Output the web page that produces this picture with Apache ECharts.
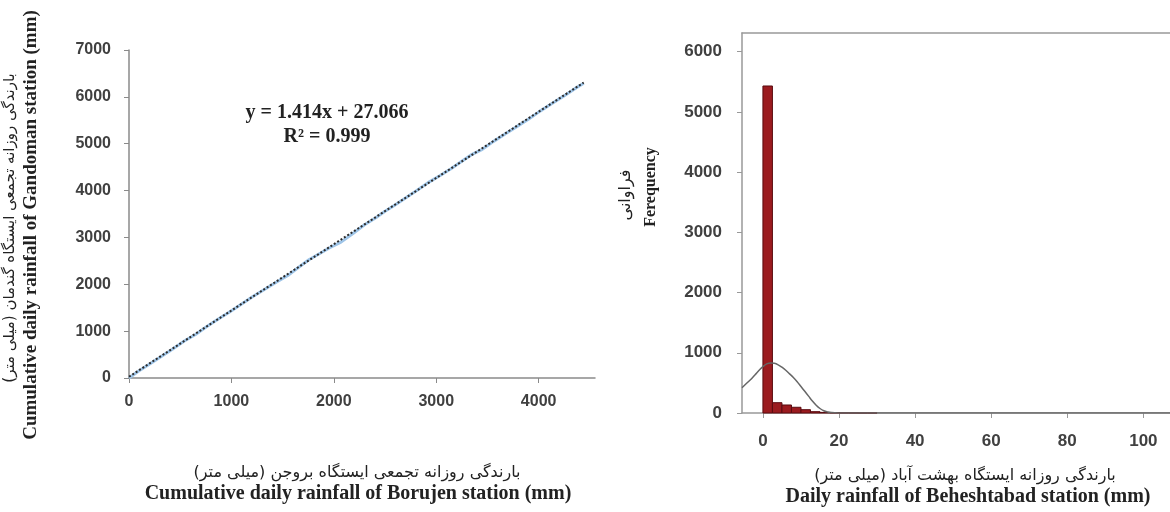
<!DOCTYPE html>
<html>
<head>
<meta charset="utf-8">
<script src="https://cdn.jsdelivr.net/npm/echarts@6.0.0/dist/echarts.min.js"></script>
<style>
  html, body { margin: 0; padding: 0; background: #fff; }
  #chart { width: 1170px; height: 512px; }
</style>
</head>
<body>
<div id="chart"></div>
<script>
// ---- left panel: double-mass curve, Borujen vs Gandoman ----
const borujenCum = [0, 95, 210, 330, 420, 540, 650, 760, 880, 990, 1100, 1210, 1330, 1450, 1560,
    1680, 1760, 1850, 1960, 2070, 2190, 2300, 2410, 2500, 2590, 2700, 2810, 2920, 3030, 3140,
    3260, 3340, 3450, 3560, 3680, 3790, 3900, 4010, 4130, 4240, 4350, 4440];
const gandomanCum = [0, 150, 310, 480, 610, 790, 930, 1100, 1270, 1420, 1580, 1740, 1900, 2060, 2200,
    2400, 2530, 2640, 2780, 2900, 3090, 3270, 3420, 3560, 3680, 3840, 4000, 4170, 4310, 4460,
    4640, 4760, 4880, 5050, 5220, 5370, 5520, 5690, 5860, 6010, 6170, 6290];
const trendX = [0, 4440];
const trendY = [27.066, 6305];
const leftXTicks = [0, 1000, 2000, 3000, 4000];

// ---- right panel: histogram of Beheshtabad daily rainfall ----
const binStart = [0, 2.5, 5, 7.5, 10, 12.5, 15, 17.5, 20, 22.5, 25, 27.5];
const binEnd = [2.5, 5, 7.5, 10, 12.5, 15, 17.5, 20, 22.5, 25, 27.5, 30];
const binCount = [5430, 171, 133, 95, 55, 22, 10, 5, 3, 2, 1, 1];
const curveX = [-5.5, -4, -3, -2, -1, 0, 1, 2, 3, 4, 5, 6, 7, 8, 9, 10, 11, 12, 13, 14, 15, 16, 17, 18, 20, 22, 25, 107];
const curveY = [420, 510, 570, 640, 710, 770, 815, 832, 825, 800, 760, 710, 650, 590, 520, 440, 360, 280, 200, 130, 75, 38, 18, 8, 2, 1, 0, 0];
const rightXTicks = [0, 20, 40, 60, 80, 100];
const rightYTicks = [0, 1000, 2000, 3000, 4000, 5000, 6000];

const chart = echarts.init(document.getElementById("chart"));

const tickFont = { fontFamily: "Liberation Sans", fontWeight: "bold", fontSize: 16, color: "#404040", formatter: v => String(v) };
const tickFontR = { ...tickFont, fontSize: 17 };
const persian = "16px 'DejaVu Sans'";
const RLM = "\u200F";

function vText(x, y, text, font) {
    return {
        type: "text", x, y, rotation: Math.PI / 2,
        style: { text, font, fill: "#222", textAlign: "center", textVerticalAlign: "middle" }
    };
}
function hText(x, y, text, font) {
    return {
        type: "text", x, y,
        style: { text, font, fill: "#222", textAlign: "center", textVerticalAlign: "middle" }
    };
}

chart.setOption({
    backgroundColor: "#fff",
    animation: false,
    grid: [
        { left: 129, top: 50, width: 466, height: 328 },
        { left: 742, top: 33, width: 440, height: 380 }
    ],
    xAxis: [
        {
            gridIndex: 0, type: "value", min: 0, max: 4550,
            axisLine: { lineStyle: { color: "#8a8a8a", width: 1.5 } },
            axisTick: { length: 5, customValues: leftXTicks, lineStyle: { color: "#8a8a8a" } },
            axisLabel: { ...tickFont, margin: 16, customValues: leftXTicks },
            splitLine: { show: false }
        },
        {
            gridIndex: 1, type: "value", min: -5.5, max: 107,
            axisLine: { onZero: false, lineStyle: { color: "#999", width: 1.5 } },
            axisTick: { length: 5, customValues: rightXTicks, lineStyle: { color: "#999" } },
            axisLabel: { ...tickFontR, margin: 20, customValues: rightXTicks },
            splitLine: { show: false }
        },
        {
            gridIndex: 1, type: "value", position: "top", min: -5.5, max: 107,
            axisLine: { onZero: false, lineStyle: { color: "#999", width: 1.5 } },
            axisTick: { show: false }, axisLabel: { show: false }, splitLine: { show: false }
        }
    ],
    yAxis: [
        {
            gridIndex: 0, type: "value", min: 0, max: 7000, interval: 1000,
            axisLine: { show: true, lineStyle: { color: "#8a8a8a", width: 1.5 } },
            axisTick: { show: true, length: 5, lineStyle: { color: "#8a8a8a" } },
            axisLabel: { ...tickFont, margin: 18 },
            splitLine: { show: false }
        },
        {
            gridIndex: 1, type: "value", min: 0, max: 6310,
            axisLine: { show: true, onZero: false, lineStyle: { color: "#999", width: 1.5 } },
            axisTick: { show: true, length: 5, customValues: rightYTicks, lineStyle: { color: "#999" } },
            axisLabel: { ...tickFontR, margin: 20, customValues: rightYTicks },
            splitLine: { show: false }
        }
    ],
    series: [
        {
            type: "line", xAxisIndex: 0, yAxisIndex: 0,
            data: borujenCum.map((x, i) => [x, gandomanCum[i]]),
            showSymbol: false,
            lineStyle: { color: "#9fc5e8", width: 3 }
        },
        {
            type: "line", xAxisIndex: 0, yAxisIndex: 0,
            data: trendX.map((x, i) => [x, trendY[i]]),
            showSymbol: false,
            lineStyle: { color: "#2b2b2b", width: 2, type: [2, 2] }
        },
        {
            type: "custom", xAxisIndex: 1, yAxisIndex: 1,
            data: binStart.map((s, i) => [s, binEnd[i], binCount[i]]),
            encode: { x: [0, 1], y: 2 },
            renderItem: (params, api) => {
                const p0 = api.coord([api.value(0), api.value(2)]);
                const p1 = api.coord([api.value(1), 0]);
                return {
                    type: "rect",
                    shape: { x: p0[0], y: p0[1], width: p1[0] - p0[0], height: p1[1] - p0[1] },
                    style: { fill: "#9b1b1f", stroke: "#5a0c10", lineWidth: 1 }
                };
            }
        },
        {
            type: "line", xAxisIndex: 1, yAxisIndex: 1,
            data: curveX.map((x, i) => [x, curveY[i]]),
            smooth: 0.4, showSymbol: false,
            lineStyle: { color: "#666", width: 1.5 }
        }
    ],
    graphic: [
        hText(327, 113, "y = 1.414x + 27.066", "bold 20px 'Liberation Serif'"),
        hText(327, 137, "R² = 0.999", "bold 20px 'Liberation Serif'"),
        vText(10, 228, "بارندگی روزانه تجمعی ایستگاه گندمان (میلی متر)" + RLM, "15px 'DejaVu Sans'"),
        vText(31, 225, "Cumulative daily rainfall of Gandoman station (mm)", "bold 19px 'Liberation Serif'"),
        hText(357, 473, "بارندگی روزانه تجمعی ایستگاه بروجن (میلی متر)" + RLM, persian),
        hText(358, 494, "Cumulative daily rainfall of Borujen station (mm)", "bold 20px 'Liberation Serif'"),
        vText(626, 195, "فراوانی" + RLM, persian),
        vText(651, 187, "Ferequency", "bold 16px 'Liberation Serif'"),
        hText(965, 476, "بارندگی روزانه ایستگاه بهشت آباد (میلی متر)" + RLM, persian),
        hText(968, 497, "Daily rainfall of Beheshtabad station (mm)", "bold 20px 'Liberation Serif'")
    ]
});

window.addEventListener("resize", () => chart.resize());
</script>
</body>
</html>
